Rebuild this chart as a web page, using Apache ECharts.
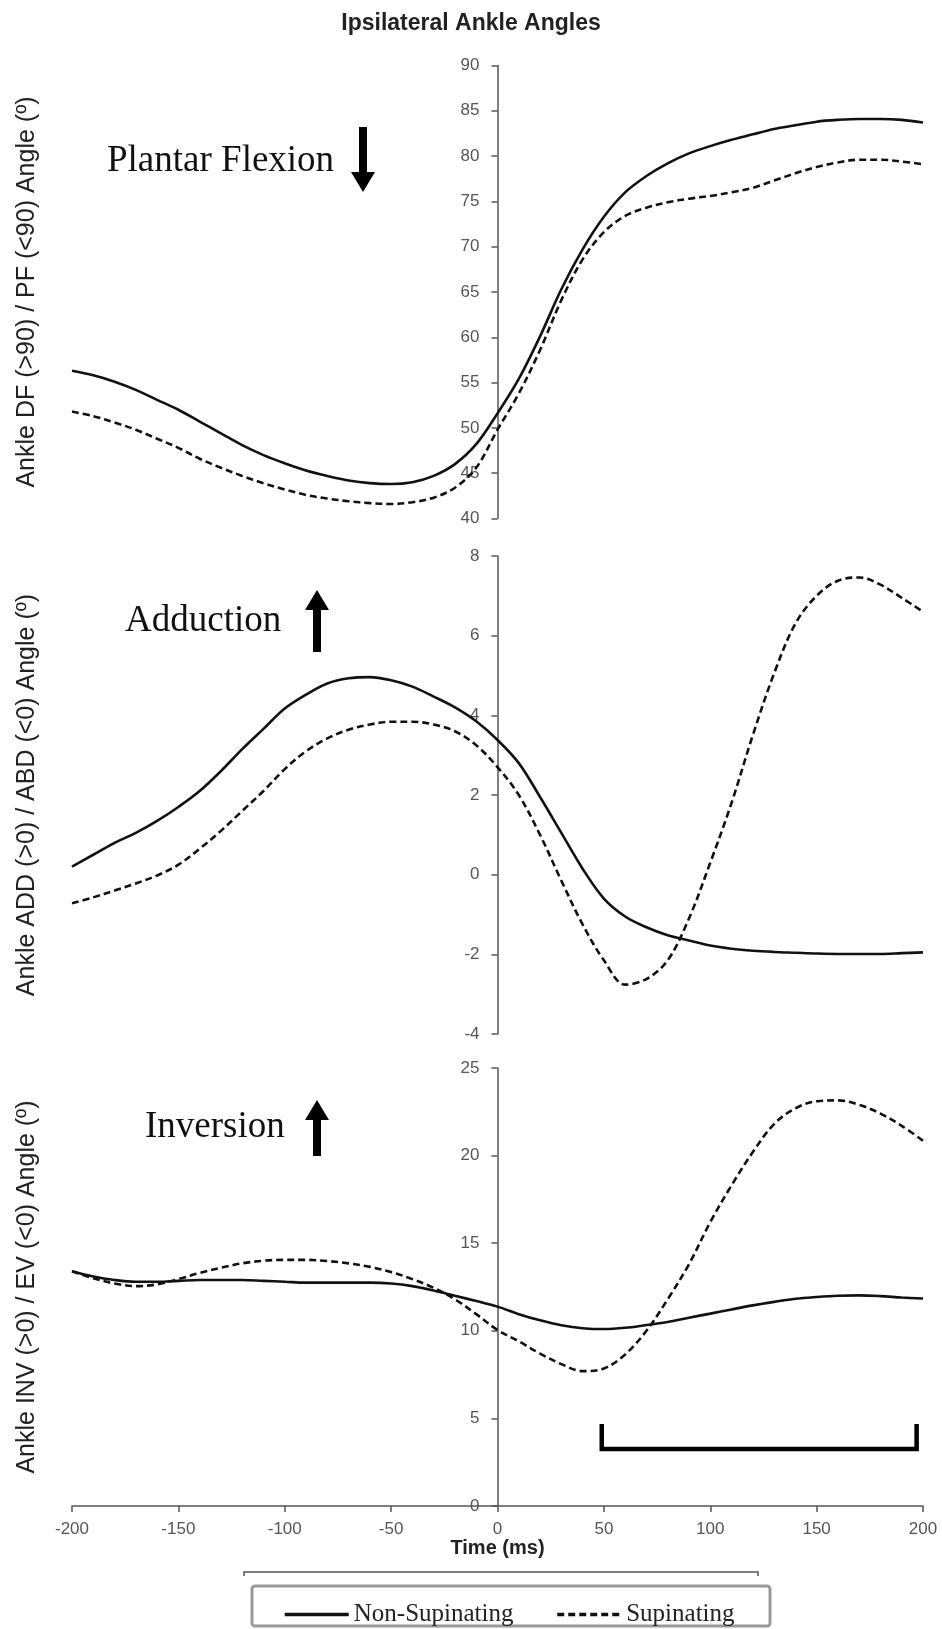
<!DOCTYPE html>
<html>
<head>
<meta charset="utf-8">
<script src="https://cdn.jsdelivr.net/npm/echarts@6/dist/echarts.min.js"></script>
<style>
html,body{margin:0;padding:0;background:#fff;}
#chart{width:942px;height:1629px;}
</style>
</head>
<body>
<div id="chart"></div>
<script>
// ---- Data ----
const time = [-200,-190,-180,-170,-160,-150,-140,-130,-120,-110,-100,-90,-80,-70,-60,-50,-40,-30,-20,-10,0,10,20,30,40,50,60,70,80,90,100,110,120,130,140,150,160,170,180,190,200];

// Ankle DF(>90)/PF(<90) angle
const dfNonSup = [56.3,55.8,55.1,54.2,53.1,52.0,50.7,49.4,48.1,47.0,46.1,45.3,44.7,44.2,43.9,43.8,44.0,44.7,46.0,48.2,51.6,55.4,60.1,65.3,69.7,73.3,76.0,77.8,79.2,80.3,81.1,81.8,82.4,83.0,83.4,83.8,84.0,84.1,84.1,84.0,83.7];
const dfSup    = [51.8,51.3,50.6,49.8,48.8,47.8,46.6,45.6,44.7,43.9,43.2,42.6,42.2,41.9,41.7,41.6,41.8,42.3,43.4,45.6,49.8,53.8,58.6,64.1,68.6,71.6,73.4,74.3,74.9,75.3,75.6,76.0,76.5,77.3,78.1,78.8,79.3,79.6,79.6,79.4,79.1];

// Ankle ADD(>0)/ABD(<0) angle
const addNonSup = [0.2,0.5,0.8,1.05,1.35,1.7,2.1,2.6,3.15,3.66,4.17,4.52,4.8,4.93,4.96,4.88,4.72,4.47,4.2,3.85,3.38,2.8,1.95,1.05,0.15,-0.6,-1.05,-1.32,-1.52,-1.65,-1.78,-1.86,-1.91,-1.94,-1.96,-1.98,-1.99,-1.99,-1.99,-1.97,-1.95];
const addSup    = [-0.72,-0.57,-0.4,-0.22,-0.02,0.25,0.65,1.1,1.6,2.1,2.65,3.1,3.42,3.64,3.77,3.84,3.84,3.77,3.6,3.25,2.7,2.0,1.0,-0.15,-1.25,-2.15,-2.76,-2.62,-2.15,-1.1,0.3,1.8,3.5,5.05,6.3,7.0,7.38,7.46,7.28,6.95,6.6];

// Ankle INV(>0)/EV(<0) angle
const invNonSup = [13.4,13.1,12.9,12.8,12.8,12.85,12.9,12.9,12.9,12.85,12.8,12.75,12.75,12.75,12.75,12.7,12.55,12.3,12.0,11.7,11.38,10.95,10.6,10.32,10.15,10.1,10.17,10.33,10.5,10.75,10.98,11.22,11.45,11.65,11.83,11.93,12.0,12.02,11.98,11.9,11.84];
const invSup    = [13.4,13.0,12.7,12.55,12.65,12.95,13.3,13.6,13.85,14.0,14.05,14.05,13.98,13.85,13.65,13.35,12.95,12.45,11.8,10.95,10.05,9.4,8.7,8.1,7.7,7.85,8.65,10.0,11.8,13.8,16.2,18.3,20.2,21.8,22.7,23.1,23.15,22.9,22.4,21.7,20.85];

// Bracket drawn in the inversion panel (time ms, angle)
const bracketX = [49, 49, 197, 197];
const bracketY = [4.55, 3.25, 3.25, 4.55];

const seriesNames = ['Non-Supinating', 'Supinating'];
const yTitles = ['Ankle DF (>90) / PF (<90) Angle (º)', 'Ankle ADD (>0) / ABD (<0) Angle (º)', 'Ankle INV (>0) / EV (<0) Angle (º)'];
const yRanges = [[40, 90, 5], [-4, 8, 2], [0, 25, 5]];
const xRange = [-200, 200, 50];

// ---- Build ----
const pairs = (arr) => time.map((t, i) => [t, arr[i]]);
const axisColor = '#555';
const W = 942, gridLeft = 72, gridRight = 19;
// the y axes cross the time axis at t = 0: shift them from the grid's left edge to there
const zeroOffset = -(W - gridLeft - gridRight) * (0 - xRange[0]) / (xRange[1] - xRange[0]);

const grids = [
  {left: gridLeft, right: gridRight, top: 65.5, height: 453, outerBoundsMode: 'none', containLabel: false},
  {left: gridLeft, right: gridRight, top: 556, height: 478, outerBoundsMode: 'none', containLabel: false},
  {left: gridLeft, right: gridRight, top: 1068, height: 438, outerBoundsMode: 'none', containLabel: false}
];

const xAxes = [0, 1, 2].map(i => ({
  type: 'value', gridIndex: i, min: xRange[0], max: xRange[1], interval: xRange[2],
  axisLine: {show: i === 2, onZero: false, lineStyle: {color: axisColor, width: 1.5}},
  axisTick: {show: i === 2, length: 6, lineStyle: {color: axisColor, width: 1.5}},
  axisLabel: {show: i === 2, color: axisColor, fontSize: 17, fontFamily: 'Liberation Sans, Arial', margin: 15},
  splitLine: {show: false},
  name: i === 2 ? 'Time (ms)' : '',
  nameLocation: 'middle', nameGap: 31,
  nameTextStyle: {fontSize: 20, fontWeight: 'bold', fontFamily: 'Liberation Sans, Arial', color: '#222'}
}));

const yAxes = [0, 1, 2].map(i => ({
  type: 'value', gridIndex: i, position: 'left', offset: zeroOffset,
  min: yRanges[i][0], max: yRanges[i][1], interval: yRanges[i][2],
  axisLine: {show: true, onZero: false, lineStyle: {color: axisColor, width: 1.5}},
  axisTick: {show: true, length: 6, lineStyle: {color: axisColor, width: 1.5}},
  axisLabel: {color: axisColor, fontSize: 17, fontFamily: 'Liberation Sans, Arial', margin: 18},
  splitLine: {show: false},
  name: yTitles[i], nameLocation: 'middle', nameRotate: 90, nameGap: 458,
  nameTextStyle: {fontSize: 25, fontFamily: 'Liberation Sans, Arial', color: '#222'}
}));

const lineSeries = (name, arr, idx, dashed) => ({
  name: name, type: 'line', xAxisIndex: idx, yAxisIndex: idx,
  data: pairs(arr), smooth: 0.35, symbol: 'none', showSymbol: false,
  lineStyle: {color: '#111', width: 2.6, type: dashed ? [7, 4] : 'solid'},
  itemStyle: {color: '#111'}
});

const series = [
  lineSeries(seriesNames[0], dfNonSup, 0, false),
  lineSeries(seriesNames[1], dfSup, 0, true),
  lineSeries(seriesNames[0], addNonSup, 1, false),
  lineSeries(seriesNames[1], addSup, 1, true),
  lineSeries(seriesNames[0], invNonSup, 2, false),
  lineSeries(seriesNames[1], invSup, 2, true),
  {
    name: 'bracket', type: 'line', xAxisIndex: 2, yAxisIndex: 2,
    data: bracketX.map((x, i) => [x, bracketY[i]]),
    symbol: 'none', smooth: false,
    lineStyle: {color: '#000', width: 4.5, cap: 'square', join: 'miter'}
  }
];

function arrow(x, tipY, tailY) {
  const dir = tipY < tailY ? 1 : -1; // 1 = points up
  const hy = tipY + dir * 20;
  return {
    type: 'polygon',
    shape: {points: [[x - 4, tailY], [x + 4, tailY], [x + 4, hy], [x + 12, hy], [x, tipY], [x - 12, hy], [x - 4, hy]]},
    style: {fill: '#000'}
  };
}
function label(text, x, y) {
  return {type: 'text', x: x, y: y, style: {text: text, fontSize: 37, fontFamily: 'Liberation Serif, Times New Roman', fill: '#111', align: 'left', verticalAlign: 'middle'}};
}

const chart = echarts.init(document.getElementById('chart'), null, {renderer: 'canvas'});
chart.setOption({
  backgroundColor: '#fff',
  animation: false,
  title: {
    text: 'Ipsilateral Ankle Angles', left: 'center', top: 7,
    textStyle: {fontSize: 23, fontWeight: 'bold', fontFamily: 'Liberation Sans, Arial', color: '#222'}
  },
  grid: grids,
  xAxis: xAxes,
  yAxis: yAxes,
  legend: {
    data: seriesNames, left: 278, top: 1597, itemWidth: 64, itemHeight: 14, itemGap: 42,
    textStyle: {fontSize: 25, fontFamily: 'Liberation Serif, Times New Roman', color: '#222'},
    itemStyle: {color: 'rgba(0,0,0,0)', borderColor: 'rgba(0,0,0,0)', borderWidth: 0},
    lineStyle: {width: 3.5}
  },
  series: series,
  graphic: [
    label('Plantar Flexion', 107, 161),
    arrow(363, 192, 127),
    label('Adduction', 125, 621),
    arrow(317, 590, 652),
    label('Inversion', 145, 1127),
    arrow(317, 1100, 1156),
    {type: 'polyline', shape: {points: [[244, 1576], [244, 1572], [758, 1572], [758, 1576]]}, style: {stroke: '#555', lineWidth: 1.5, fill: null}},
    {type: 'rect', shape: {x: 252, y: 1586, width: 518, height: 40, r: 3}, style: {fill: null, stroke: '#999', lineWidth: 3}}
  ]
});
</script>
</body>
</html>
